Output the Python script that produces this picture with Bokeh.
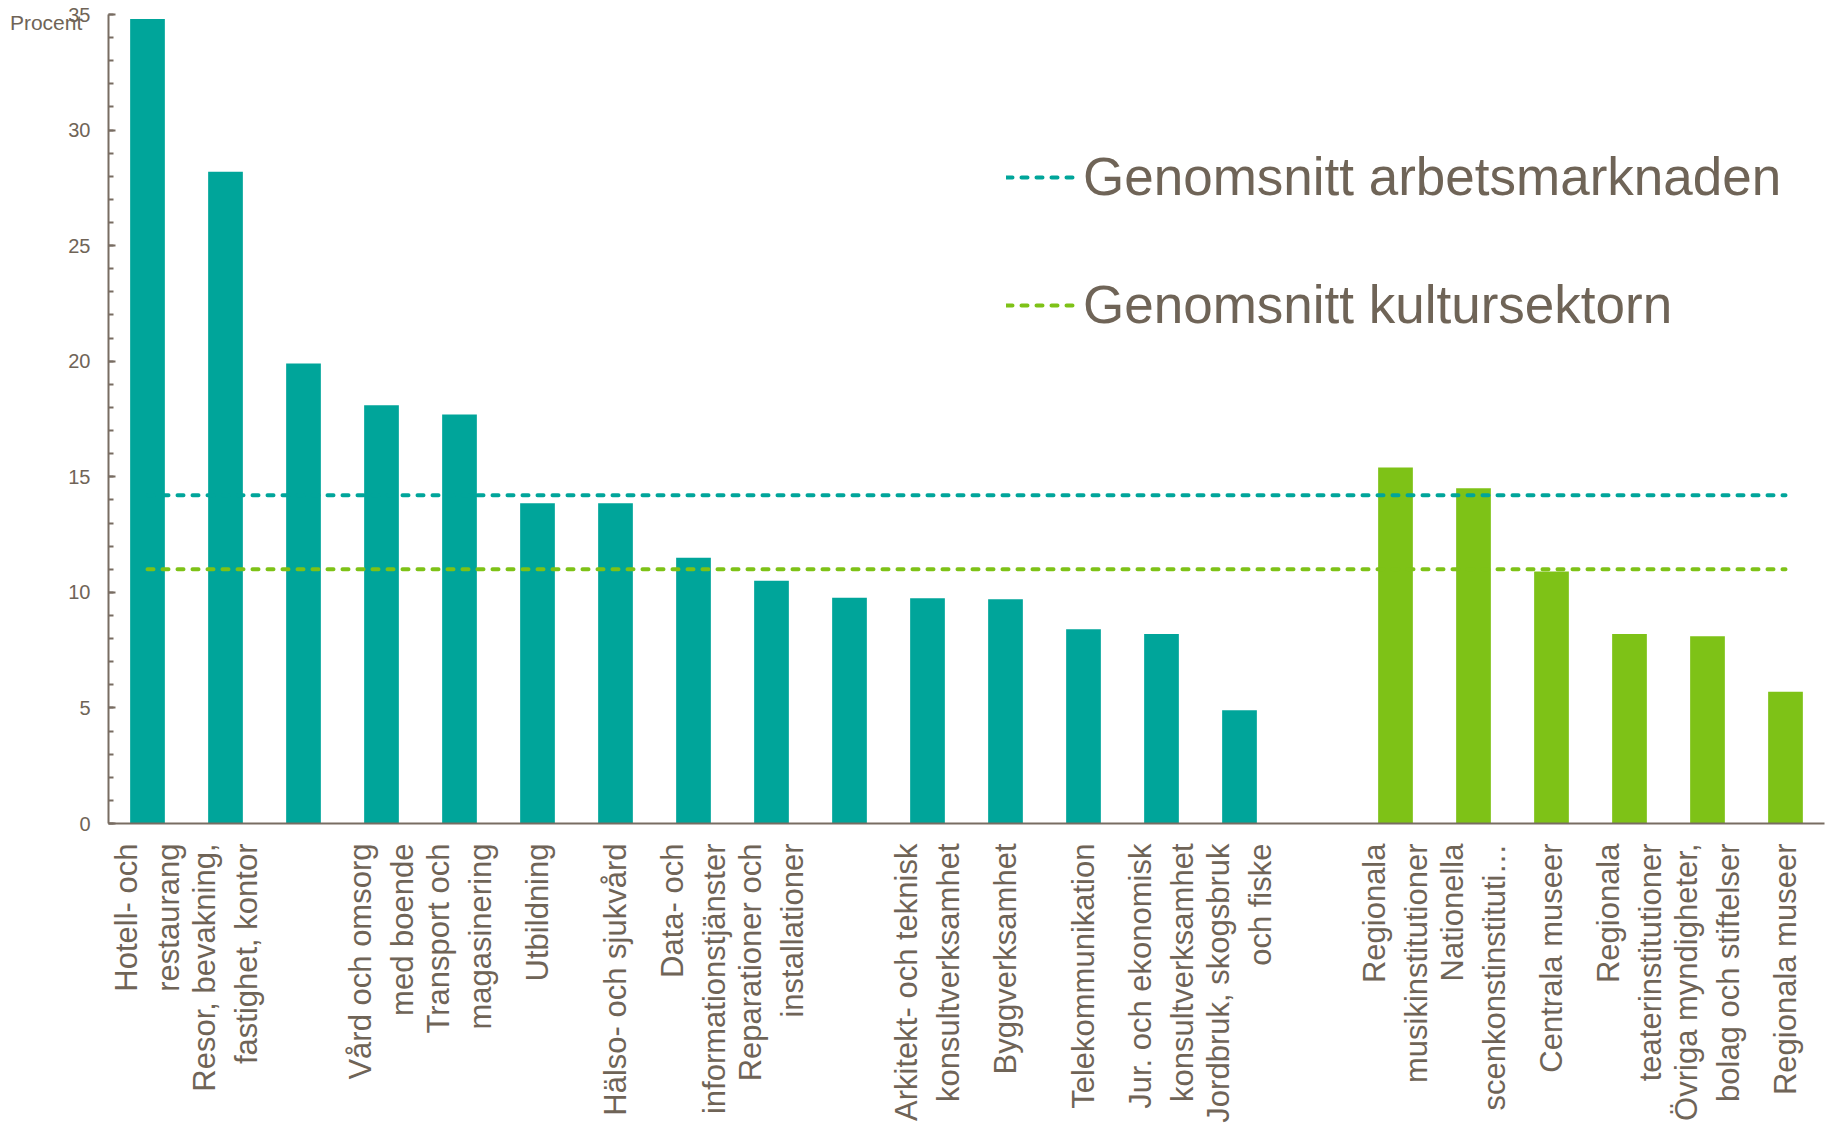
import math
from bokeh.plotting import figure
from bokeh.models import (Range1d, FixedTicker, SingleIntervalTicker, Legend,
                          LegendItem)
from bokeh.embed import file_html
from bokeh.resources import INLINE

# ---- data ----
market_labels = [
    "Hotell- och\nrestaurang",
    "Resor, bevakning,\nfastighet, kontor",
    "",
    "Vård och omsorg\nmed boende",
    "Transport och\nmagasinering",
    "Utbildning",
    "Hälso- och sjukvård",
    "Data- och\ninformationstjänster",
    "Reparationer och\ninstallationer",
    "",
    "Arkitekt- och teknisk\nkonsultverksamhet",
    "Byggverksamhet",
    "Telekommunikation",
    "Jur. och ekonomisk\nkonsultverksamhet",
    "Jordbruk, skogsbruk\noch fiske",
]
market_values = [34.8, 28.2, 19.9, 18.1, 17.7, 13.86, 13.85, 11.5, 10.5,
                 9.77, 9.75, 9.7, 8.4, 8.2, 4.9]

culture_labels = [
    "Regionala\nmusikinstitutioner",
    "Nationella\nscenkonstinstituti…",
    "Centrala museer",
    "Regionala\nteaterinstitutioner",
    "Övriga myndigheter,\nbolag och stiftelser",
    "Regionala museer",
]
culture_values = [15.4, 14.5, 10.9, 8.2, 8.1, 5.7]

avg_market = 14.2
avg_culture = 11.0
legend_labels = ["Genomsnitt arbetsmarknaden", "Genomsnitt kultursektorn"]
y_label = "Procent"

# ---- styling ----
TEAL = "#00A59A"
GREEN = "#7EC217"
TEXT = "#6F6457"
AXIS = "#786D62"
FONT = "Liberation Sans"
W, H = 1832, 1134

n_m = len(market_values)
x_m = list(range(n_m))
x_c = [n_m + 1 + i for i in range(len(culture_values))]
n_slots = n_m + 1 + len(culture_values)

p = figure(width=W, height=H,
           x_range=Range1d(-0.5, n_slots - 0.5), y_range=Range1d(0, 35),
           output_backend="svg", toolbar_location=None,
           min_border_left=108, min_border_right=8,
           min_border_top=14, min_border_bottom=311)
p.background_fill_color = "white"
p.border_fill_color = "white"
p.outline_line_color = None
p.xgrid.visible = False
p.ygrid.visible = False

p.vbar(x=x_m, top=market_values, width=0.445, fill_color=TEAL, line_color=None)
p.vbar(x=x_c, top=culture_values, width=0.445, fill_color=GREEN, line_color=None)

l1 = p.line(x=[0, n_slots - 1], y=[avg_market, avg_market], line_color=TEAL,
            line_width=4, line_dash="6 9", line_cap="round")
l2 = p.line(x=[0, n_slots - 1], y=[avg_culture, avg_culture], line_color=GREEN,
            line_width=4, line_dash="6 9", line_cap="round")

legend = Legend(items=[LegendItem(label=legend_labels[0], renderers=[l1]),
                       LegendItem(label=legend_labels[1], renderers=[l2])],
                location=(898, 488), glyph_width=71, glyph_height=20,
                label_standoff=6, spacing=67, padding=0, margin=0,
                border_line_color=None, background_fill_alpha=0,
                label_text_font_size="53px", label_text_color=TEXT,
                label_text_font=FONT)
p.add_layout(legend)

# y axis
ya = p.yaxis[0]
ya.ticker = SingleIntervalTicker(interval=5, num_minor_ticks=5)
ya.major_tick_in = 7
ya.major_tick_out = 0
ya.minor_tick_in = 5
ya.minor_tick_out = 0
ya.axis_line_color = AXIS
ya.axis_line_width = 2
ya.major_tick_line_color = AXIS
ya.major_tick_line_width = 2
ya.minor_tick_line_color = AXIS
ya.minor_tick_line_width = 2
ya.major_label_text_font = FONT
ya.major_label_text_font_size = "20px"
ya.major_label_text_color = TEXT
ya.major_label_standoff = 18

# "Procent": horizontal axis title at the top end of the y axis
# (an empty first line moves it slightly below the top of the axis)
ya.axis_label = "\n" + y_label
ya.axis_label_text_font = FONT
ya.axis_label_text_font_size = "21px"
ya.axis_label_text_font_style = "normal"
ya.axis_label_text_color = TEXT
ya.axis_label_text_line_height = 0.7
try:
    ya.axis_label_orientation = "horizontal"
    ya.axis_label_align = "end"
    ya.axis_label_standoff = -17
except AttributeError:
    ya.axis_label = None

# x axis
all_labels = market_labels + [""] + culture_labels
ticks = [i for i, s in enumerate(all_labels) if s]
xa = p.xaxis[0]
xa.ticker = FixedTicker(ticks=ticks)
xa.major_label_overrides = {i: all_labels[i] for i in ticks}
xa.major_label_orientation = math.pi / 2
xa.major_tick_in = 0
xa.major_tick_out = 0
xa.minor_tick_in = 0
xa.minor_tick_out = 0
xa.axis_line_color = AXIS
xa.axis_line_width = 2
xa.major_label_text_font = FONT
xa.major_label_text_font_size = "31px"
xa.major_label_text_color = TEXT
xa.major_label_standoff = 20

open("out.html", "w").write(file_html(p, INLINE))
